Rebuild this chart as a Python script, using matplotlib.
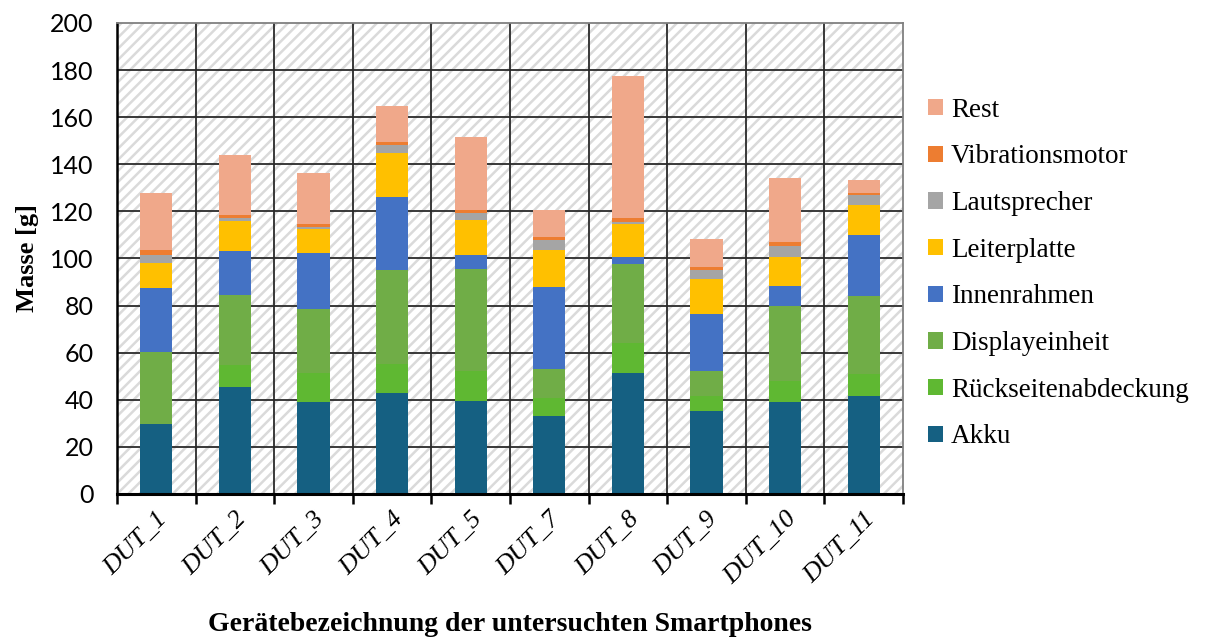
import numpy as np
import matplotlib
matplotlib.use("Agg")
import matplotlib.pyplot as plt
from matplotlib.patches import Rectangle

geraete = ["DUT_1", "DUT_2", "DUT_3", "DUT_4", "DUT_5",
           "DUT_7", "DUT_8", "DUT_9", "DUT_10", "DUT_11"]

# Masse der Komponenten in g, von unten nach oben gestapelt
akku = [29.6, 45.4, 38.9, 42.8, 39.5, 33.0, 51.4, 35.1, 38.9, 41.6]
rueckseite = [0.0, 9.4, 12.3, 12.5, 12.6, 7.9, 12.7, 6.6, 9.0, 9.4]
display = [30.6, 29.8, 27.4, 39.7, 43.4, 12.2, 33.7, 10.4, 31.9, 33.2]
innenrahmen = [27.1, 18.6, 23.6, 31.1, 6.0, 34.8, 2.7, 24.5, 8.7, 25.6]
leiterplatte = [10.9, 12.6, 10.3, 18.6, 14.8, 15.8, 14.1, 14.7, 12.1, 13.0]
lautsprecher = [3.1, 1.5, 0.9, 3.7, 3.1, 4.3, 1.0, 3.8, 4.8, 4.3]
vibration = [2.4, 1.0, 1.1, 1.1, 1.2, 1.1, 1.7, 1.2, 1.7, 0.8]
rest = [24.0, 25.6, 21.8, 15.3, 31.0, 11.5, 60.1, 12.0, 27.1, 5.3]

komponenten = [
    ("Akku", akku, "#156082"),
    ("Rückseitenabdeckung", rueckseite, "#5FB832"),
    ("Displayeinheit", display, "#70AD47"),
    ("Innenrahmen", innenrahmen, "#4472C4"),
    ("Leiterplatte", leiterplatte, "#FFC000"),
    ("Lautsprecher", lautsprecher, "#A5A5A5"),
    ("Vibrationsmotor", vibration, "#ED7D31"),
    ("Rest", rest, "#F0A88A"),
]

serif = ["Liberation Serif", "DejaVu Serif"]
sans = ["Lato", "DejaVu Sans"]

plt.rcParams["hatch.linewidth"] = 1.8

fig = plt.figure(figsize=(12.08, 6.37), dpi=100)
ax = fig.add_axes([0.0969, 0.2245, 0.6506, 0.7394])

x = np.arange(len(geraete))
ax.set_xlim(-0.5, len(geraete) - 0.5)
ax.set_ylim(0, 200)

# schraffierter Hintergrund
ax.add_patch(Rectangle((0, 0), 1, 1, transform=ax.transAxes, facecolor="white",
                       edgecolor="#DADADA", hatch="///", linewidth=0, zorder=0))

# Gitter: horizontal bei den y-Ticks, vertikal an den Kategoriegrenzen
for yv in range(20, 200, 20):
    ax.axhline(yv, color="#2A2A2A", lw=1.3, zorder=1)
for xv in np.arange(0.5, len(geraete) - 0.5, 1):
    ax.axvline(xv, color="#2A2A2A", lw=1.3, zorder=1)

bottom = np.zeros(len(geraete))
handles = []
for name, werte, farbe in komponenten:
    werte = np.array(werte)
    b = ax.bar(x, werte, 0.41, bottom=bottom, color=farbe, label=name, zorder=2)
    handles.append(b)
    bottom += werte

for side in ["top", "right"]:
    ax.spines[side].set_color("#808080")
    ax.spines[side].set_linewidth(1.3)
ax.spines["left"].set_linewidth(1.8)
ax.spines["bottom"].set_linewidth(2.2)

ax.set_yticks(range(0, 201, 20))
ax.tick_params(axis="y", length=0, pad=17)
for lbl in ax.get_yticklabels():
    lbl.set_fontfamily(sans)
    lbl.set_fontsize(18)

ax.set_xticks(x)
ax.set_xticklabels(geraete, rotation=45, ha="right", rotation_mode="anchor",
                   fontfamily=serif, fontsize=19, style="italic")
ax.set_xticks(np.arange(-0.5, len(geraete), 1), minor=True)
ax.tick_params(axis="x", which="major", length=0, pad=10)
ax.tick_params(axis="x", which="minor", length=7, width=1.8, direction="out")

ax.set_ylabel("Masse [g]", fontfamily=serif, fontsize=19, fontweight="bold", labelpad=8)
ax.set_xlabel("Gerätebezeichnung der untersuchten Smartphones", fontfamily=serif,
              fontsize=20, fontweight="bold", labelpad=17)

leg = fig.legend(handles[::-1], [k[0] for k in komponenten][::-1],
                 loc="upper left", bbox_to_anchor=(0.748, 0.885), frameon=False,
                 handlelength=0.55, handleheight=0.55, handletextpad=0.3,
                 labelspacing=0.8, prop={"family": serif, "size": 19.5})

fig.savefig("out.png", dpi=100)
